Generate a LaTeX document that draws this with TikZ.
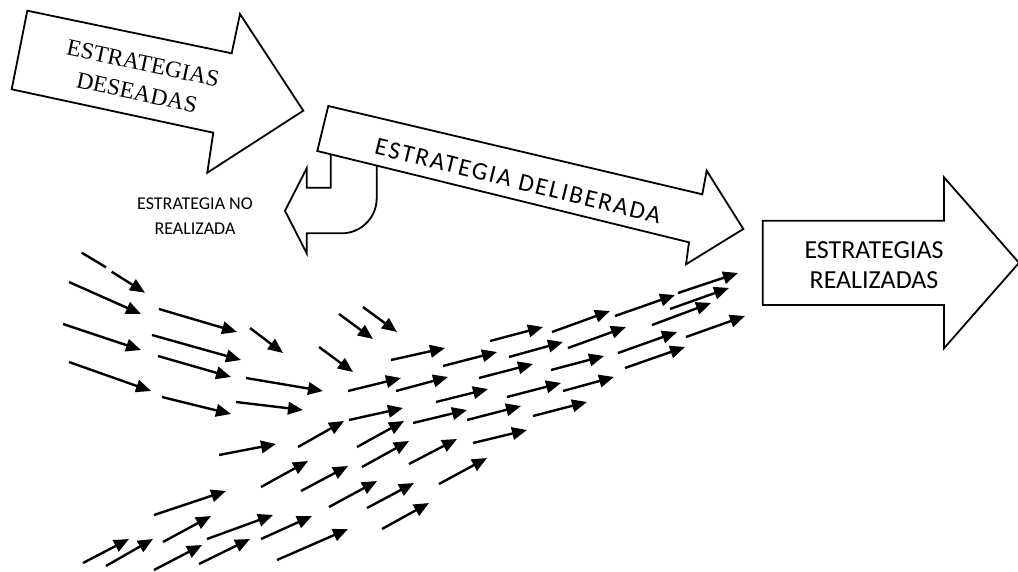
\documentclass[tikz,border=0pt]{standalone}
\usepackage{fontspec}
\setmainfont{Liberation Serif}
\newfontfamily\calfont{Carlito}
\newfontfamily\delibfont[LetterSpace=8]{Carlito}
\usetikzlibrary{arrows.meta}
\tikzset{
  bigarrow/.style={draw=black, fill=white, line width=1.8pt, line join=miter},
  flow/.style={line width=2.4pt, -{Triangle[length=15pt,width=12.5pt]}},
  plainline/.style={line width=2.4pt},
}
\begin{document}
\begin{tikzpicture}[x=1pt,y=-1pt]
\useasboundingbox (0,0) rectangle (1018,571);

% deseadas arrow
\draw[bigarrow] (27.3,10.7) -- (231.7,53.3) -- (240,14) -- (303.3,110.7) -- (207.3,172.7) -- (213.3,132.7) -- (11.7,89.3) -- cycle;
\node[rotate=-12, align=center, font=\fontsize{23.5}{30}\selectfont] (deseadas) at (140,78) {ESTRATEGIAS\\DESEADAS};

% no realizada U-turn arrow
\draw[bigarrow] (330.7,150) -- (330.7,187.7) -- (306.7,187.7) -- (306.7,168.3) -- (285,210.8) -- (306.7,253.3) -- (306.7,233.3) -- (341.7,233.3) arc[start angle=90, end angle=0, radius=35] -- (376.7,160);
\node[align=center, font=\calfont\fontsize{18}{25}\selectfont] (noreal) at (195,216) {ESTRATEGIA NO\\REALIZADA};

% deliberada arrow
\draw[bigarrow] (328.3,106) -- (702.3,194.3) -- (706.7,170.7) -- (743.3,229) -- (686,264.3) -- (689,242.3) -- (317.3,151) -- cycle;
\node[rotate=-13.8, font=\delibfont\fontsize{25}{29}\selectfont] (deliberada) at (518,181) {ESTRATEGIA DELIBERADA};

% realizadas arrow
\draw[bigarrow] (762.7,220.7) -- (944,220.7) -- (944,177.3) -- (1019,262.8) -- (944,348.3) -- (944,305) -- (762.7,305) -- cycle;
\node[align=center, font=\calfont\fontsize{26}{30}\selectfont] (realizadas) at (874,265.5) {ESTRATEGIAS\\REALIZADAS};

% small arrows
\draw[plainline] (81.7,252.7) -- (106,267.3);
\foreach \a/\b/\c/\d in {
  111.7/271.7/145/292.7, 69/282/141/314, 63/324/141/350, 69/362/151/391,
  159/309/237/332, 152/335/241/360, 158/356/231/377, 162/397/231/414,
  250/328/283/353, 246/378/323/391, 236/402/303/410,
  339/314/373/339, 363/307/397/332, 319/347/353/372, 348/391/401/378,
  391/360/445/348, 443/366/497/352, 396/391/448/377, 349/420/403/408,
  298/447/344/421, 357/447/404/421, 362/467/409/441, 413/423/467/410,
  436/402/488/389, 479/378/533/364, 490/341/543/327, 509/357/563/342,
  552/332/610/311, 568/348/626/327, 615/316/675/295, 678/293/738/273,
  670/309/729/288, 652/325/711/303, 618/353/677/332, 625/368/685/347,
  686/337/745/316, 551/370/604/356, 563/391/614/377, 507/397/561/383,
  467/420/521/406, 533/416/587/402, 473/443/527/430, 409/464/457/439,
  219/455/276/444, 261/487/308/461, 301/491/348/466, 154/515/226/491,
  329/507/377/481, 367/508/414/483, 382/529/429/503, 439/484/487/458,
  163/542/211/516, 207/539/273/515, 261/539/312/516,
  83/563/129/539, 106/566/153/539, 154/570/202/545, 199/564/250/539,
  277/560/348/529}
  \draw[flow] (\a,\b) -- (\c,\d);
\end{tikzpicture}
\end{document}
